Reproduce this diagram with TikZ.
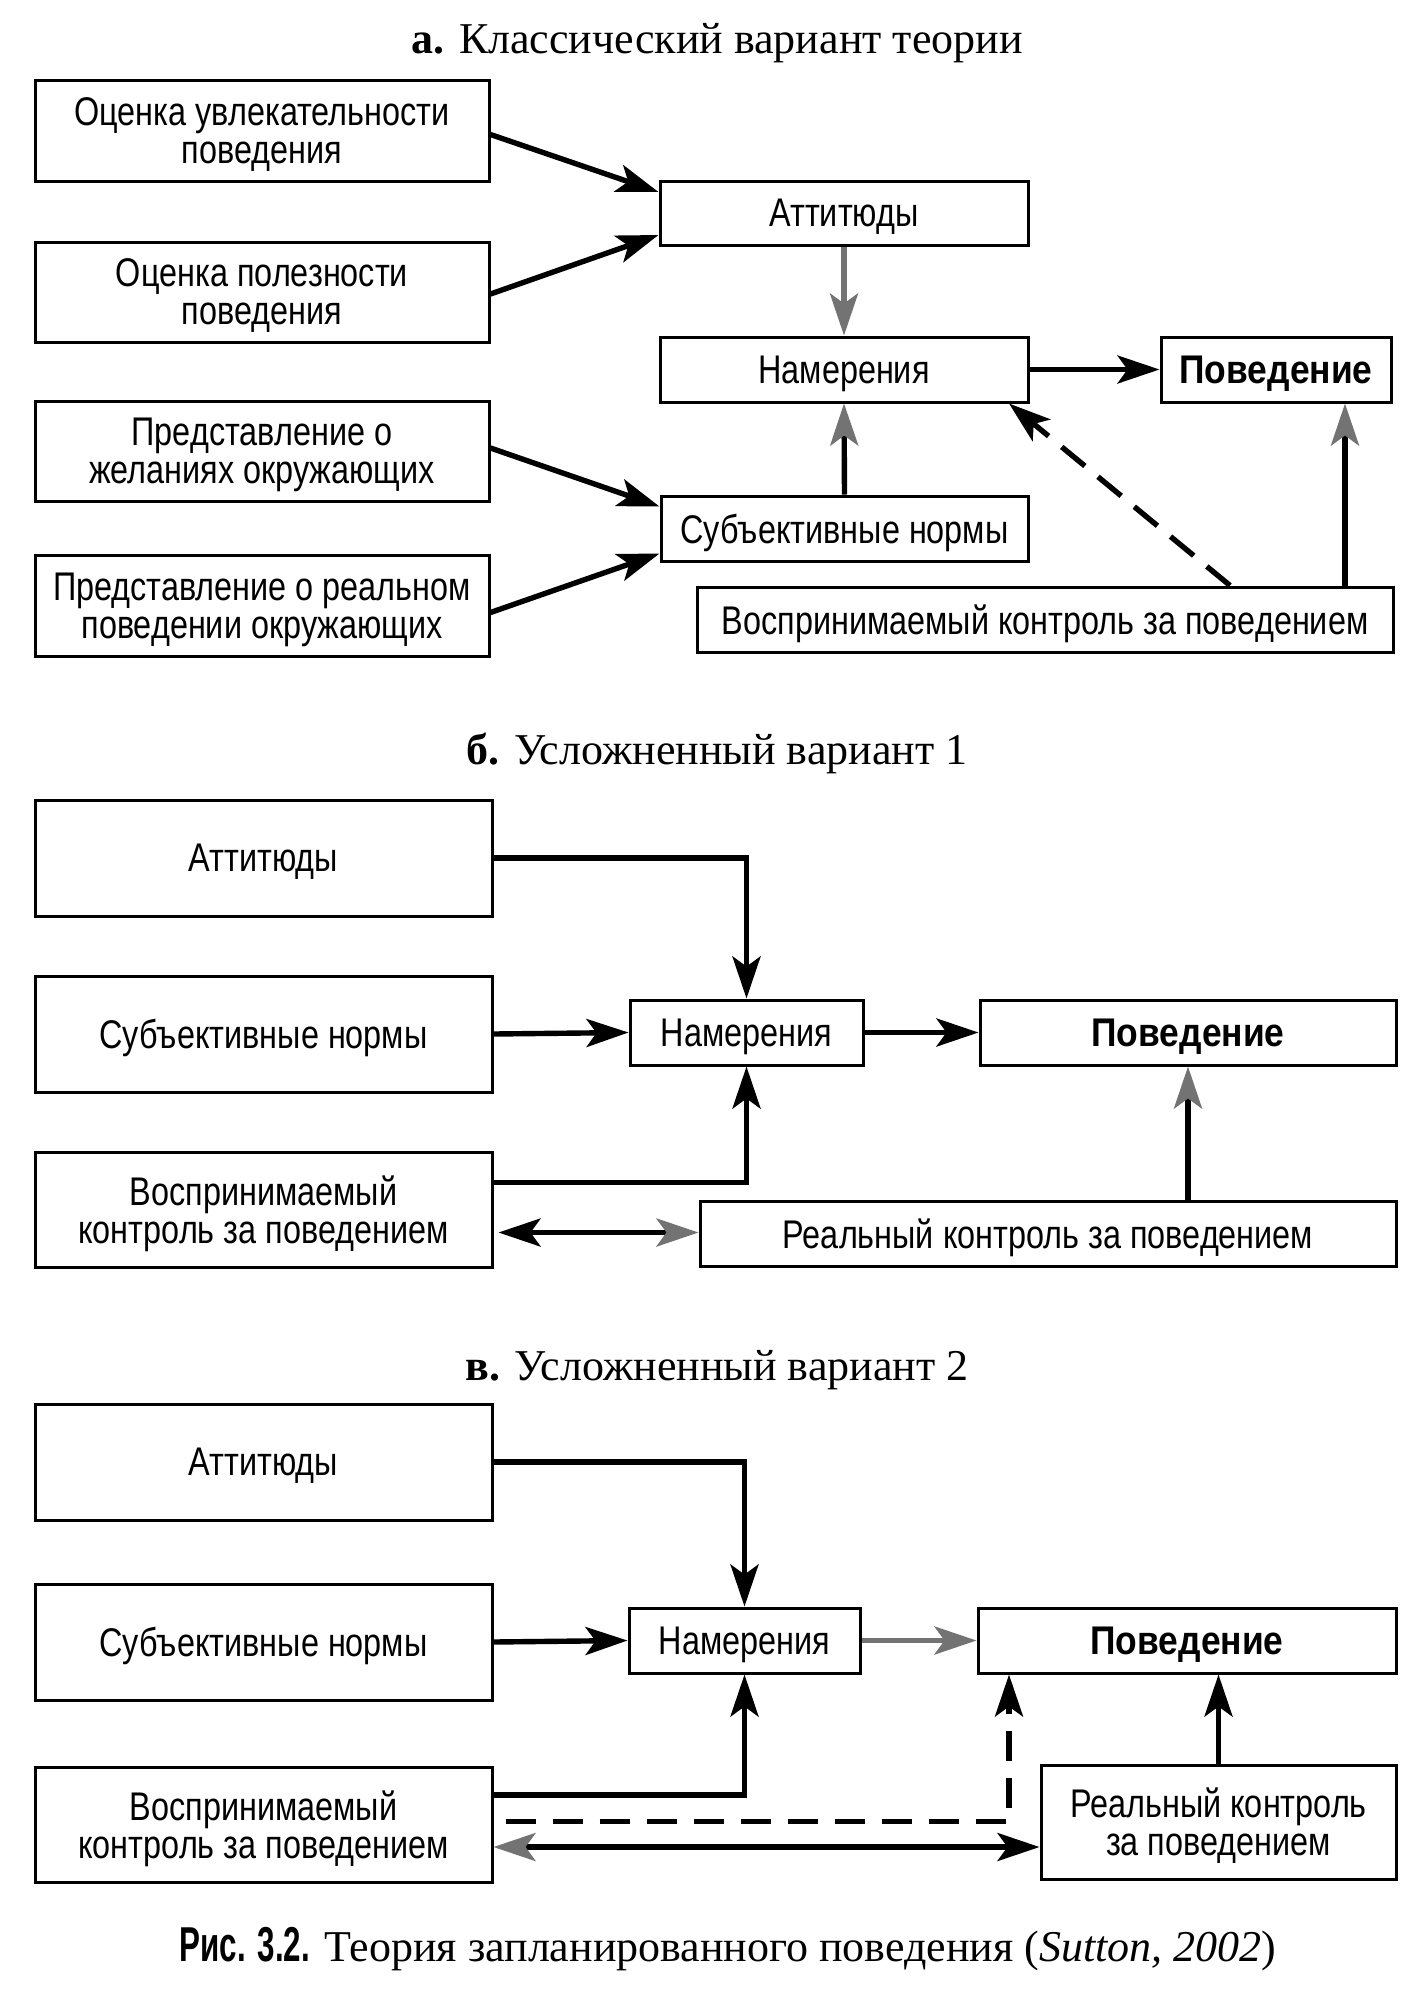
\documentclass[tikz,border=0pt]{standalone}
\usepackage{fontspec}
\setmainfont{Liberation Serif}
\newfontfamily\cond[FakeStretch=0.81,BoldFeatures={FakeStretch=0.885}]{Liberation Sans}
\newfontfamily\capsans[FakeStretch=0.64]{Liberation Sans}
\usetikzlibrary{arrows.meta,calc}
\begin{document}
\begin{tikzpicture}[x=0.5pt,y=-0.5pt,
  box/.style={draw, line width=1.5pt, inner sep=0pt, align=center, text depth=0pt,
    font=\cond\fontsize{20}{19}\selectfont},
  ttl/.style={anchor=base, inner sep=0pt, font=\fontsize{22}{26}\selectfont},
  arr/.style={line width=2.7pt, -{Stealth[length=21pt,width=14pt,inset=5pt]}},
  garr/.style={line width=2.7pt, -{Stealth[length=21pt,width=14pt,inset=5pt,color=black!55]}},
  gline/.style={draw=black!55},
  dsh/.style={dash pattern=on 15pt off 8.5pt}
]
\fill[white] (0,0) rectangle (1425,1993);
\useasboundingbox (0,0) rectangle (1425,1993);

% ---------- a ----------
\node[ttl] (ta) at (717,53) {\textbf{а.} Классический вариант теории};

\node[box, minimum width=227pt, minimum height=50.5pt] (A1) at (262,130.5)
  {Оценка увлекательности\\поведения};
\node[box, minimum width=227pt, minimum height=50pt] (A2) at (262,292)
  {Оценка полезности\\поведения};
\node[box, minimum width=227pt, minimum height=50pt] (A3) at (262,451)
  {Представление о\\желаниях окружающих};
\node[box, minimum width=227pt, minimum height=50.5pt] (A4) at (262,605.5)
  {Представление о реальном\\поведении окружающих};

\node[box, minimum width=184pt, minimum height=32pt] (Att) at (844,213) {Аттитюды};
\node[box, minimum width=184pt, minimum height=32.5pt] (Nam) at (844,369.5) {Намерения};
\node[box, minimum width=115pt, minimum height=32.5pt] (Pov) at (1276,369.5) {\bfseries Поведение};
\node[box, minimum width=183.5pt, minimum height=32.5pt] (Sub) at (844.5,528.5) {Субъективные нормы};
\node[box, minimum width=348pt, minimum height=32.5pt] (PBC) at (1045,619.5)
  {Воспринимаемый контроль за поведением};

\draw[arr] ($(A1.east)+(0,4)$) -- ($(Att.west)+(0,-21)$);
\draw[arr] ($(A2.east)+(0,2)$) -- ($(Att.west)+(0,22)$);
\draw[arr] ($(A3.east)+(0,-3)$) -- ($(Sub.west)+(0,-22)$);
\draw[arr] ($(A4.east)+(0,7)$) -- ($(Sub.west)+(0,25)$);
\draw[garr, gline] (Att.south) -- (Nam.north);
\draw[garr] (Sub.north) -- (Nam.south);
\draw[arr] (Nam.east) -- (Pov.west);
\draw[arr, dsh] ($(PBC.north)+(185,0)$) -- ($(Nam.south)+(165,0)$);
\coordinate (pa) at ($(Pov.south)+(69,0)$);
\draw[garr] (pa |- PBC.north) -- (pa);

% ---------- b ----------
\node[ttl] (tb) at (717,764) {\textbf{б.} Усложненный вариант 1};

\node[box, minimum width=228.5pt, minimum height=58pt] (Ab) at (263.5,858) {Аттитюды};
\node[box, minimum width=228.5pt, minimum height=58pt] (Sb) at (263.5,1034) {Субъективные нормы};
\node[box, minimum width=228.5pt, minimum height=57.5pt] (Cb) at (263.5,1209.5)
  {Воспринимаемый\\контроль за поведением};
\node[box, minimum width=116.5pt, minimum height=32.5pt] (Nb) at (746.5,1032.5) {Намерения};
\node[box, minimum width=208pt, minimum height=32.5pt] (Pb) at (1188,1032.5) {\bfseries Поведение};
\node[box, minimum width=348pt, minimum height=32.5pt] (Rb) at (1048,1233.5)
  {Реальный контроль за поведением};

\draw[arr] (Ab.east) -| (Nb.north);
\draw[arr] (Sb.east) -- (Nb.west);
\draw[arr] (Nb.east) -- (Pb.west);
\draw[arr] ($(Cb.east)+(0,-27)$) -| (Nb.south);
\draw[garr] (Pb.south |- Rb.north) -- (Pb.south);
\coordinate (eb) at ($(Rb.west)+(0,-1)$);
\draw[line width=2.7pt, {Stealth[length=21pt,width=14pt,inset=5pt]}-{Stealth[length=21pt,width=14pt,inset=5pt,color=black!55]}]
  ($(eb -| Cb.east)+(5,0)$) -- (eb);

% ---------- c ----------
\node[ttl] (tc) at (717,1380) {\textbf{в.} Усложненный вариант 2};

\node[box, minimum width=228.5pt, minimum height=58pt] (Ac) at (263.5,1462) {Аттитюды};
\node[box, minimum width=228.5pt, minimum height=58pt] (Sc) at (263.5,1642) {Субъективные нормы};
\node[box, minimum width=228.5pt, minimum height=57.5pt] (Cc) at (263.5,1824.5)
  {Воспринимаемый\\контроль за поведением};
\node[box, minimum width=115.5pt, minimum height=32.5pt] (Nc) at (744.5,1640.5) {Намерения};
\node[box, minimum width=209pt, minimum height=32.5pt] (Pc) at (1187,1640.5) {\bfseries Поведение};
\node[box, minimum width=177.5pt, minimum height=57pt] (Rc) at (1218.5,1822)
  {Реальный контроль\\за поведением};

\draw[arr] (Ac.east) -| (Nc.north);
\draw[arr] (Sc.east) -- (Nc.west);
\draw[garr, gline] (Nc.east) -- (Pc.west);
\draw[arr] ($(Cc.east)+(0,-29.5)$) -| (Nc.south);
\coordinate (dc) at ($(Pc.south)+(-178,0)$);
\draw[arr, dsh] ($(Cc.east)+(12,-3)$) -| (dc);
\coordinate (ec) at ($(Rc.west)+(0,25)$);
\draw[line width=2.7pt, {Stealth[length=21pt,width=14pt,inset=5pt,color=black!55]}-{Stealth[length=21pt,width=14pt,inset=5pt]}]
  (ec -| Cc.east) -- (ec);
\draw[arr] (Rc.north) -- (Rc.north |- Pc.south);

% ---------- caption ----------
\node[anchor=base, inner sep=0pt, font=\fontsize{22}{26}\selectfont] (cap) at (728,1961)
  {{\capsans\bfseries\fontsize{24.5}{26}\selectfont Рис. 3.2.} Теория запланированного поведения (\textit{Sutton, 2002})};
\end{tikzpicture}
\end{document}
